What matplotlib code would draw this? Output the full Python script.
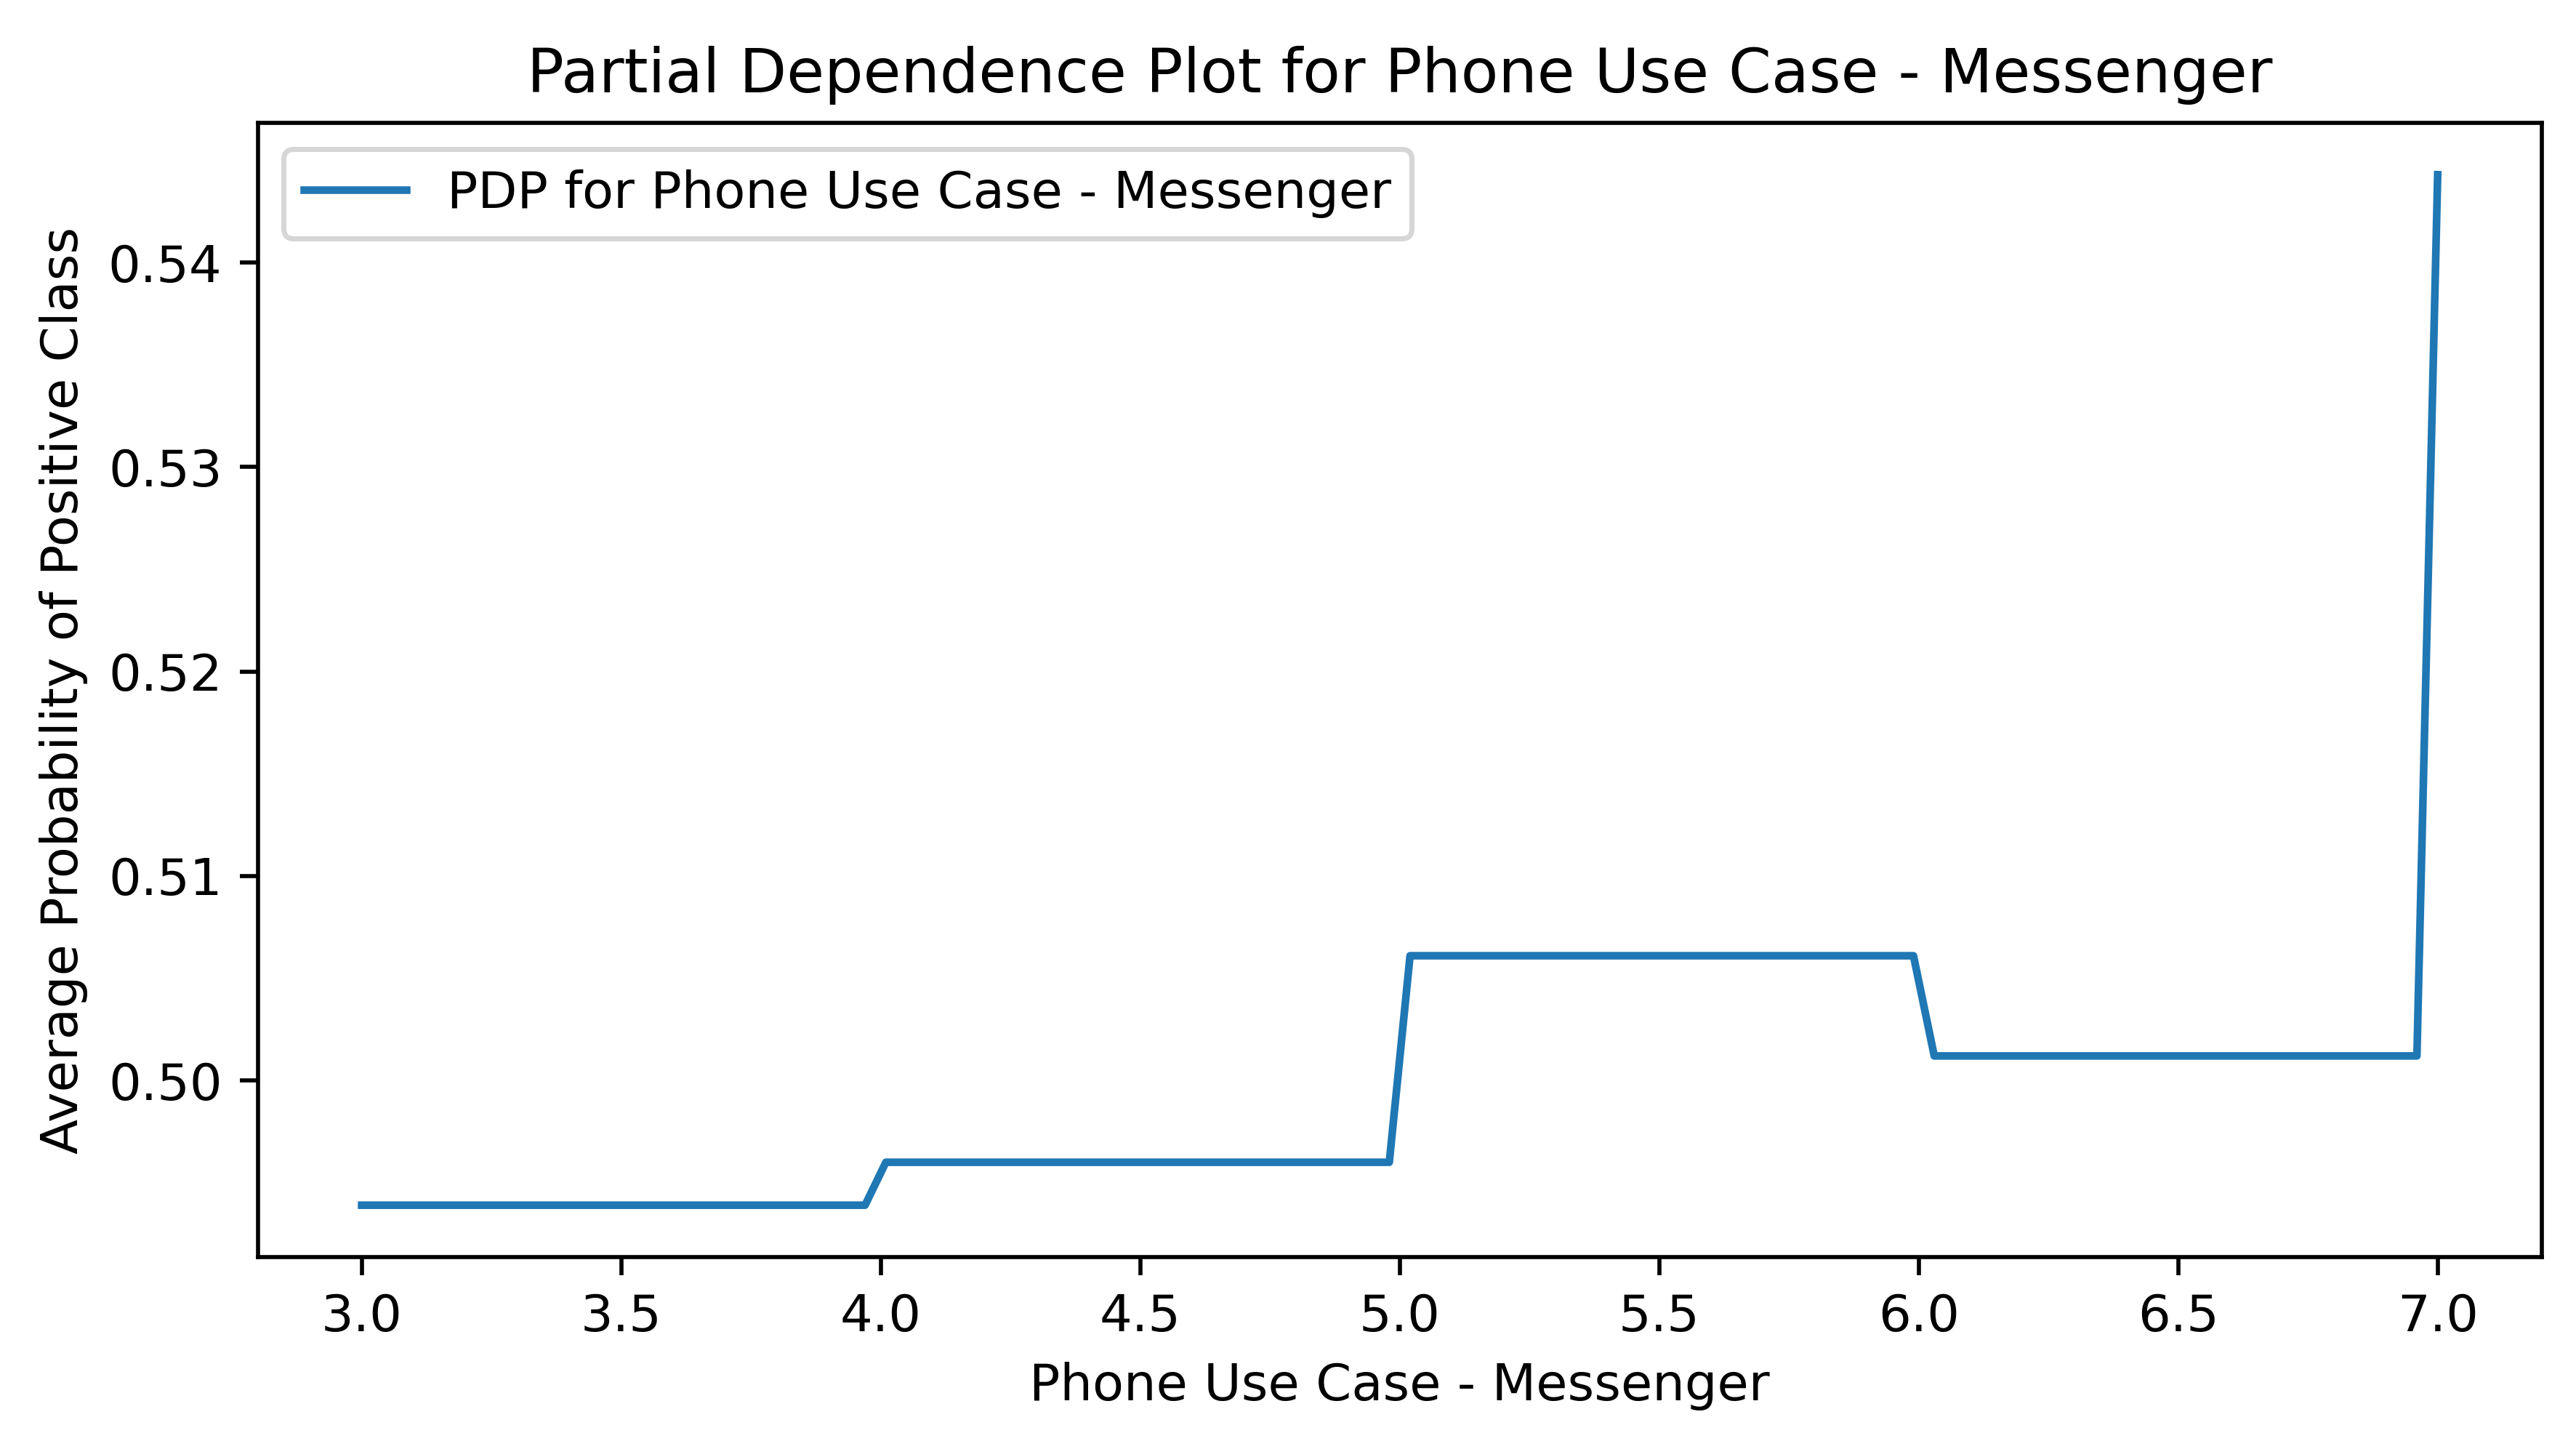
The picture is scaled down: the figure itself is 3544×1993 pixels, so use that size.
import matplotlib
matplotlib.use("Agg")
import matplotlib.pyplot as plt

feature = "Phone Use Case - Messenger"

# grid points where the partial dependence changes level
grid_x = [3.0, 3.97, 4.01, 4.98, 5.02, 5.99, 6.03, 6.96, 7.0]
avg_prob = [0.4939, 0.4939, 0.4960, 0.4960, 0.5061, 0.5061, 0.5012, 0.5012, 0.5443]

dpi = 3544 / 7
fig = plt.figure(figsize=(7, 1993 / dpi), dpi=dpi)
ax = fig.add_axes([0.1001, 0.1327, 0.8865, 0.7823])

ax.plot(grid_x, avg_prob, label=f"PDP for {feature}")

ax.set_xlabel(feature)
ax.set_ylabel("Average Probability of Positive Class")
ax.set_title(f"Partial Dependence Plot for {feature}")
ax.legend(loc="upper left")

fig.savefig("out.png", dpi=dpi)
